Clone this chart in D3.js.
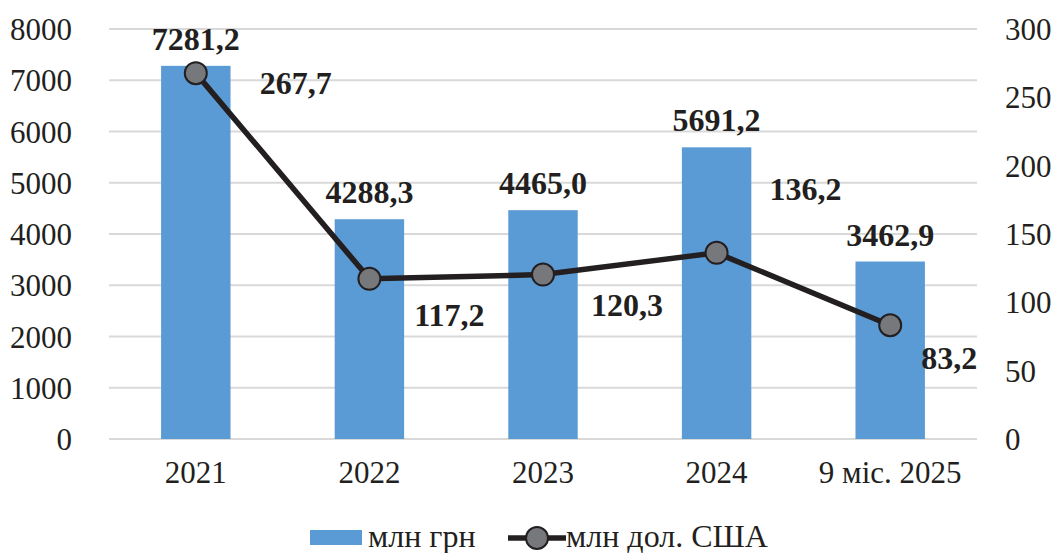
<!DOCTYPE html>
<html>
<head>
<meta charset="utf-8">
<script src="https://cdn.jsdelivr.net/npm/d3@7"></script>
<style>
  body { margin: 0; background: #fff; }
  svg text { font-family: "Liberation Serif", "Times New Roman", serif; fill: #231f20; }
</style>
</head>
<body>
<div id="chart"></div>
<script>
var categories = ["2021", "2022", "2023", "2024", "9 міс. 2025"];
var uahValues = [7281.2, 4288.3, 4465.0, 5691.2, 3462.9];
var usdValues = [267.7, 117.2, 120.3, 136.2, 83.2];
var leftTicks = [0, 1000, 2000, 3000, 4000, 5000, 6000, 7000, 8000];
var rightTicks = [0, 50, 100, 150, 200, 250, 300];
var seriesNames = ["млн грн", "млн дол. США"];

// where each usd label sits relative to its point
var usdLabelOffsets = [[100, 10], [80, 36], [84, 30], [89, -64], [59, 33]];

var W = 1055, H = 553;
var plotLeft = 109, plotRight = 977, plotTop = 29, plotBottom = 439;

var svg = d3.select("#chart").append("svg")
    .attr("width", W)
    .attr("height", H);

var x = d3.scaleBand().domain(categories).range([plotLeft, plotRight]).paddingInner(0.6).paddingOuter(0.3);
var yL = d3.scaleLinear().domain([0, 8000]).range([plotBottom, plotTop]);
var yR = d3.scaleLinear().domain([0, 300]).range([plotBottom, plotTop]);

function fmt(v) {
    return v.toFixed(1).replace(".", ",");
}

// gridlines
svg.selectAll(".grid")
    .data(leftTicks)
    .enter()
    .append("line")
    .attr("x1", plotLeft)
    .attr("x2", plotRight)
    .attr("y1", function(d) { return yL(d); })
    .attr("y2", function(d) { return yL(d); })
    .attr("stroke", "#d9d9d9")
    .attr("stroke-width", 2);

// left axis
var axL = svg.append("g").attr("transform", "translate(" + plotLeft + ",0)")
    .call(d3.axisLeft(yL).tickValues(leftTicks).tickSize(0).tickPadding(37).tickFormat(d3.format("d")));
axL.select(".domain").remove();
axL.selectAll("text").attr("font-size", "31px").attr("font-family", "Liberation Serif").attr("fill", "#231f20").attr("dy", "0.34em");

// right axis
var axR = svg.append("g").attr("transform", "translate(" + plotRight + ",0)")
    .call(d3.axisRight(yR).tickValues(rightTicks).tickSize(0).tickPadding(28).tickFormat(d3.format("d")));
axR.select(".domain").remove();
axR.selectAll("text").attr("font-size", "31px").attr("font-family", "Liberation Serif").attr("fill", "#231f20").attr("dy", "0.34em");

// x axis
var axX = svg.append("g").attr("transform", "translate(0," + plotBottom + ")")
    .call(d3.axisBottom(x).tickSize(0).tickPadding(22));
axX.select(".domain").remove();
axX.selectAll("text").attr("font-size", "31px").attr("font-family", "Liberation Serif").attr("fill", "#231f20");

// bars
svg.selectAll(".bar")
    .data(uahValues)
    .enter()
    .append("rect")
    .attr("x", function(d, i) { return x(categories[i]); })
    .attr("y", function(d) { return yL(d); })
    .attr("width", x.bandwidth())
    .attr("height", function(d) { return plotBottom - yL(d); })
    .attr("fill", "#5b9bd5");

// bar labels
svg.selectAll(".barLabel")
    .data(uahValues)
    .enter()
    .append("text")
    .attr("x", function(d, i) { return x(categories[i]) + x.bandwidth() / 2; })
    .attr("y", function(d) { return yL(d) - 16; })
    .attr("text-anchor", "middle")
    .attr("font-size", "32px")
    .attr("font-weight", "bold")
    .text(function(d) { return fmt(d); });

// usd line
var line = d3.line()
    .x(function(d, i) { return x(categories[i]) + x.bandwidth() / 2; })
    .y(function(d) { return yR(d); });

svg.append("path")
    .datum(usdValues)
    .attr("d", line)
    .attr("fill", "none")
    .attr("stroke", "#231f20")
    .attr("stroke-width", 5.5);

svg.selectAll(".pt")
    .data(usdValues)
    .enter()
    .append("circle")
    .attr("cx", function(d, i) { return x(categories[i]) + x.bandwidth() / 2; })
    .attr("cy", function(d) { return yR(d); })
    .attr("r", 11)
    .attr("fill", "#77787b")
    .attr("stroke", "#231f20")
    .attr("stroke-width", 2);

svg.selectAll(".usdLabel")
    .data(usdValues)
    .enter()
    .append("text")
    .attr("x", function(d, i) { return x(categories[i]) + x.bandwidth() / 2 + usdLabelOffsets[i][0]; })
    .attr("y", function(d, i) { return yR(d) + usdLabelOffsets[i][1]; })
    .attr("dy", "0.35em")
    .attr("text-anchor", "middle")
    .attr("font-size", "32px")
    .attr("font-weight", "bold")
    .text(function(d) { return fmt(d); });

// legend
var lg = svg.append("g");
lg.append("rect")
    .attr("x", 310).attr("y", 530).attr("width", 52).attr("height", 15)
    .attr("fill", "#5b9bd5");
lg.append("text")
    .attr("x", 368).attr("y", 547)
    .attr("font-size", "32px")
    .text(seriesNames[0]);
lg.append("line")
    .attr("x1", 508).attr("x2", 566).attr("y1", 538).attr("y2", 538)
    .attr("stroke", "#231f20").attr("stroke-width", 5.5);
lg.append("circle")
    .attr("cx", 537).attr("cy", 538).attr("r", 11)
    .attr("fill", "#77787b").attr("stroke", "#231f20").attr("stroke-width", 2);
lg.append("text")
    .attr("x", 566).attr("y", 547)
    .attr("font-size", "32px")
    .text(seriesNames[1]);
</script>
</body>
</html>
